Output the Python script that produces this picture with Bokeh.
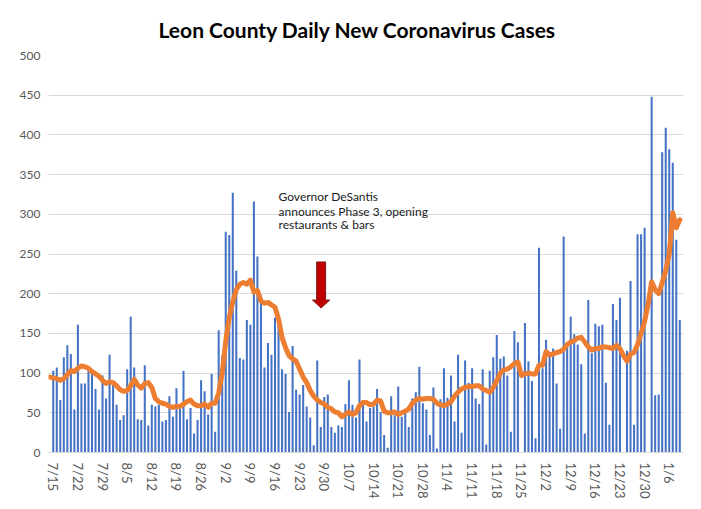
import numpy as np
import pandas as pd
from bokeh.plotting import figure
from bokeh.models import ColumnDataSource, FixedTicker, Range1d, Label
from bokeh.embed import file_html
from bokeh.resources import INLINE

TITLE = "Leon County Daily New Coronavirus Cases"
FIRST_DAY = "2020-07-14"

# daily new cases (first entry 7/14 has no bar)
CASES = [None,
    103, 107, 66, 120, 135, 124, 54, 161, 87, 87,
    103, 101, 80, 54, 97, 68, 123, 87, 60, 41,
    47, 105, 171, 107, 42, 41, 110, 34, 60, 58,
    60, 39, 41, 71, 45, 81, 55, 103, 42, 56,
    24, 41, 91, 77, 48, 99, 26, 154, 122, 278,
    274, 327, 229, 119, 117, 167, 161, 316, 247, 198,
    107, 138, 123, 170, 160, 105, 99, 51, 134, 79,
    73, 85, 58, 44, 9, 116, 32, 70, 73, 32,
    25, 34, 32, 61, 91, 60, 44, 117, 66, 39,
    56, 58, 80, 51, 22, 6, 71, 47, 83, 45,
    55, 32, 68, 76, 108, 62, 54, 22, 82, 5,
    67, 106, 69, 97, 39, 123, 25, 116, 88, 106,
    68, 61, 105, 10, 103, 120, 148, 118, 121, 97,
    26, 153, 139, 0, 163, 115, 90, 18, 258, 106,
    142, 121, 131, 87, 30, 272, 133, 171, 149, 136,
    111, 24, 192, 125, 162, 159, 161, 88, 35, 187,
    167, 195, 0, 128, 216, 35, 275, 275, 283, 0,
    448, 72, 73, 378, 409, 382, 365, 268, 167]

# orange average line
AVG = [95,
    94, 93, 91, 93, 98, 103, 102, 106, 109, 108,
    106, 102, 99, 96, 91, 87, 89, 88, 84, 79,
    77, 78, 84, 92, 85, 81, 87, 88, 82, 68,
    64, 62, 61, 58, 57, 58, 58, 61, 64, 66,
    61, 59, 59, 61, 57, 62, 62, 75, 100, 140,
    170, 190, 205, 212, 214, 212, 217, 202, 204, 191,
    188, 189, 186, 183, 168, 145, 132, 122, 118, 115,
    105, 95, 88, 78, 71, 66, 63, 61, 57, 55,
    51, 50, 45, 48, 51, 48, 50, 59, 63, 63,
    60, 61, 66, 65, 52, 50, 50, 51, 48, 50,
    52, 55, 62, 66, 68, 67, 68, 68, 67, 62,
    60, 59, 61, 64, 71, 76, 80, 82, 83, 83,
    84, 84, 80, 78, 76, 82, 90, 100, 104, 105,
    108, 112, 114, 97, 99, 100, 99, 99, 110, 110,
    127, 123, 124, 126, 127, 130, 136, 139, 141, 144,
    145, 139, 133, 129, 131, 131, 133, 133, 132, 131,
    135, 131, 122, 115, 124, 126, 136, 150, 165, 187,
    215, 205, 200, 214, 229, 250, 302, 283, 293]

TICK_LABELS = ["7/15", "7/22", "7/29", "8/5", "8/12", "8/19", "8/26", "9/2",
               "9/9", "9/16", "9/23", "9/30", "10/7", "10/14", "10/21", "10/28",
               "11/4", "11/11", "11/18", "11/25", "12/2", "12/9", "12/16",
               "12/23", "12/30", "1/6"]
Y_TICKS = [0, 50, 100, 150, 200, 250, 300, 350, 400, 450, 500]

NOTE_LINES = ["Governor DeSantis", "announces Phase 3, opening", "restaurants & bars"]

FONT = "Lato"

n = len(CASES)
dates = pd.date_range(FIRST_DAY, periods=n)
date_labels = [f"{d.month}/{d.day}" for d in dates]
xs = list(range(n))
cases = [np.nan if c is None else c for c in CASES]

src = ColumnDataSource(data=dict(x=xs, cases=cases, avg=AVG))

p = figure(width=692, height=501, output_backend="svg", toolbar_location=None,
           x_range=Range1d(-0.35, 180.05), y_range=Range1d(0, 500),
           min_border_left=48, min_border_right=9, min_border_top=55,
           min_border_bottom=46)

p.vbar(x="x", top="cases", width=0.58, source=src, fill_color="#4472c4",
       line_color=None)
p.line(x="x", y="avg", source=src, line_color="#ed7d31", line_width=5,
       line_join="round", line_cap="round")

# axes
tick_pos = [i for i, lab in enumerate(date_labels) if lab in TICK_LABELS]
p.xaxis.ticker = FixedTicker(ticks=tick_pos)
p.xaxis.major_label_overrides = {i: date_labels[i] for i in tick_pos}
p.xaxis.major_label_orientation = "vertical"
p.xaxis.axis_line_color = "#d9d9d9"
p.xaxis.major_tick_line_color = None
p.xaxis.minor_tick_line_color = None
p.xaxis.major_label_text_font = FONT
p.xaxis.major_label_text_font_size = "13px"
p.xaxis.major_label_text_color = "#595959"
p.xaxis.major_label_standoff = 4

p.yaxis.ticker = FixedTicker(ticks=Y_TICKS)
p.yaxis.axis_line_color = None
p.yaxis.major_tick_line_color = None
p.yaxis.minor_tick_line_color = None
p.yaxis.major_label_text_font = FONT
p.yaxis.major_label_text_font_size = "12px"
p.yaxis.major_label_text_color = "#595959"
p.yaxis.major_label_standoff = 2

p.xgrid.visible = False
p.ygrid.ticker = FixedTicker(ticks=Y_TICKS)
p.ygrid.grid_line_color = "#d9d9d9"
p.outline_line_color = None

p.title.text = TITLE
p.title.text_font = FONT
p.title.text_font_style = "bold"
p.title.text_font_size = "21px"
p.title.text_color = "#000000"
p.title.align = "left"
p.title.offset = 110
p.title.standoff = 27

# annotation text
note_x = 65
note_y = [322, 304, 287]
for t, yy in zip(NOTE_LINES, note_y):
    p.add_layout(Label(x=note_x, y=yy, text=t, text_font=FONT,
                       text_font_size="12px", text_baseline="middle",
                       text_color="#1a1a1a"))

# red arrow
cx, top, neck, tip = 77.1, 240, 192, 182
hs, hh = 1.28, 2.47
p.patch([cx - hs, cx + hs, cx + hs, cx + hh, cx, cx - hh, cx - hs],
        [top, top, neck, neck, tip, neck, neck],
        fill_color="#c00000", line_color="#7f1d1d", line_width=1)

open("out.html", "w").write(file_html(p, INLINE))
